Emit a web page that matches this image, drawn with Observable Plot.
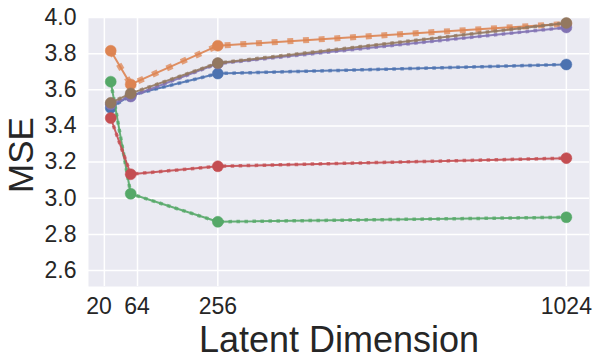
<!DOCTYPE html>
<html>
<head>
<meta charset="utf-8">
<script src="https://cdn.jsdelivr.net/npm/d3@7"></script>
<script src="https://cdn.jsdelivr.net/npm/@observablehq/plot@0.6"></script>
<style>
  html, body { margin: 0; padding: 0; background: #fff; }
  #chart svg { display: block; }
</style>
</head>
<body>
<div id="chart"></div>
<script>
// ---- data ----
const latentDims = [20, 64, 256, 1024];
const seriesNames = ["blue", "orange", "green", "red", "purple", "brown"];
const blueMSE   = [3.500, 3.570, 3.690, 3.740];
const orangeMSE = [3.816, 3.630, 3.844, 3.965];
const greenMSE  = [3.645, 3.025, 2.870, 2.895];
const redMSE    = [3.444, 3.133, 3.177, 3.222];
const purpleMSE = [3.520, 3.563, 3.745, 3.945];
const brownMSE  = [3.528, 3.580, 3.748, 3.970];
const redErrAt256 = [3.160, 3.195];
const xGridTicks = [6, 79, 256, 1024];
const xLabelTicks = [-6, 78, 256, 1024];
const xTickLabels = ["20", "64", "256", "1024"];
const yTicks = [2.6, 2.8, 3.0, 3.2, 3.4, 3.6, 3.8, 4.0];

const colors = {
  blue: "#4C72B0", orange: "#DD8452", green: "#55A868",
  red: "#C44E52", purple: "#8172B3", brown: "#937860"
};
const allValues = {blue: blueMSE, orange: orangeMSE, green: greenMSE, red: redMSE, purple: purpleMSE, brown: brownMSE};

const rows = s => latentDims.map((x, i) => ({series: s, x, y: allValues[s][i]}));
const labelMap = new Map(xLabelTicks.map((p, i) => [p, xTickLabels[i]]));

const marks = [
  Plot.frame({fill: "#EAEAF2", stroke: null}),
  Plot.gridX(xGridTicks, {stroke: "white", strokeOpacity: 1, strokeWidth: 1.5}),
  Plot.gridY(yTicks, {stroke: "white", strokeOpacity: 1, strokeWidth: 1.5}),
];

for (const s of seriesNames) {
  const data = rows(s);
  const c = colors[s];
  const big = s === "orange";
  marks.push(Plot.line(data, {x: "x", y: "y", stroke: c, strokeWidth: 2, strokeOpacity: 0.9}));
  marks.push(Plot.line(data, {
    x: "x", y: "y", stroke: c,
    strokeWidth: big ? 6 : 3.5,
    strokeOpacity: 0.75,
    strokeLinecap: "butt",
    strokeDasharray: big ? "6 9.7" : "3.5 4.5"
  }));
  if (s === "red") {
    marks.push(Plot.ruleX([{x: latentDims[2], y1: redErrAt256[0], y2: redErrAt256[1]}],
      {x: "x", y1: "y1", y2: "y2", stroke: c, strokeWidth: 2.5}));
  }
  marks.push(Plot.dot(data, {x: "x", y: "y", r: 5.5, fill: c, stroke: c, strokeWidth: 0.5}));
}

const F = "'Liberation Sans', Arial, sans-serif";
marks.push(
  Plot.axisY(yTicks, {tickSize: 0, tickPadding: 12, tickFormat: d3.format(".1f"), fontSize: 23, label: null, color: "#262626"}),
  Plot.axisX(xLabelTicks, {tickSize: 0, tickPadding: 11, tickFormat: d => labelMap.get(d), fontSize: 23, label: null, color: "#262626"}),
  Plot.text(["Latent Dimension"], {frameAnchor: "bottom", lineAnchor: "middle", textAnchor: "middle", dy: 54, fontSize: 36, fill: "#262626"}),
  Plot.text(["MSE"], {frameAnchor: "left", lineAnchor: "middle", textAnchor: "middle", dx: -67, dy: 3, rotate: -90, fontSize: 35, fill: "#262626"})
);

const chart = Plot.plot({
  width: 600,
  height: 364,
  marginLeft: 88,
  marginRight: 11,
  marginTop: 17,
  marginBottom: 78,
  style: {fontFamily: F, background: "white", overflow: "visible"},
  x: {type: "linear", domain: [-29, 1075], axis: null},
  y: {domain: [2.512, 4.0], axis: null},
  marks
});
document.getElementById("chart").appendChild(chart);
</script>
</body>
</html>
